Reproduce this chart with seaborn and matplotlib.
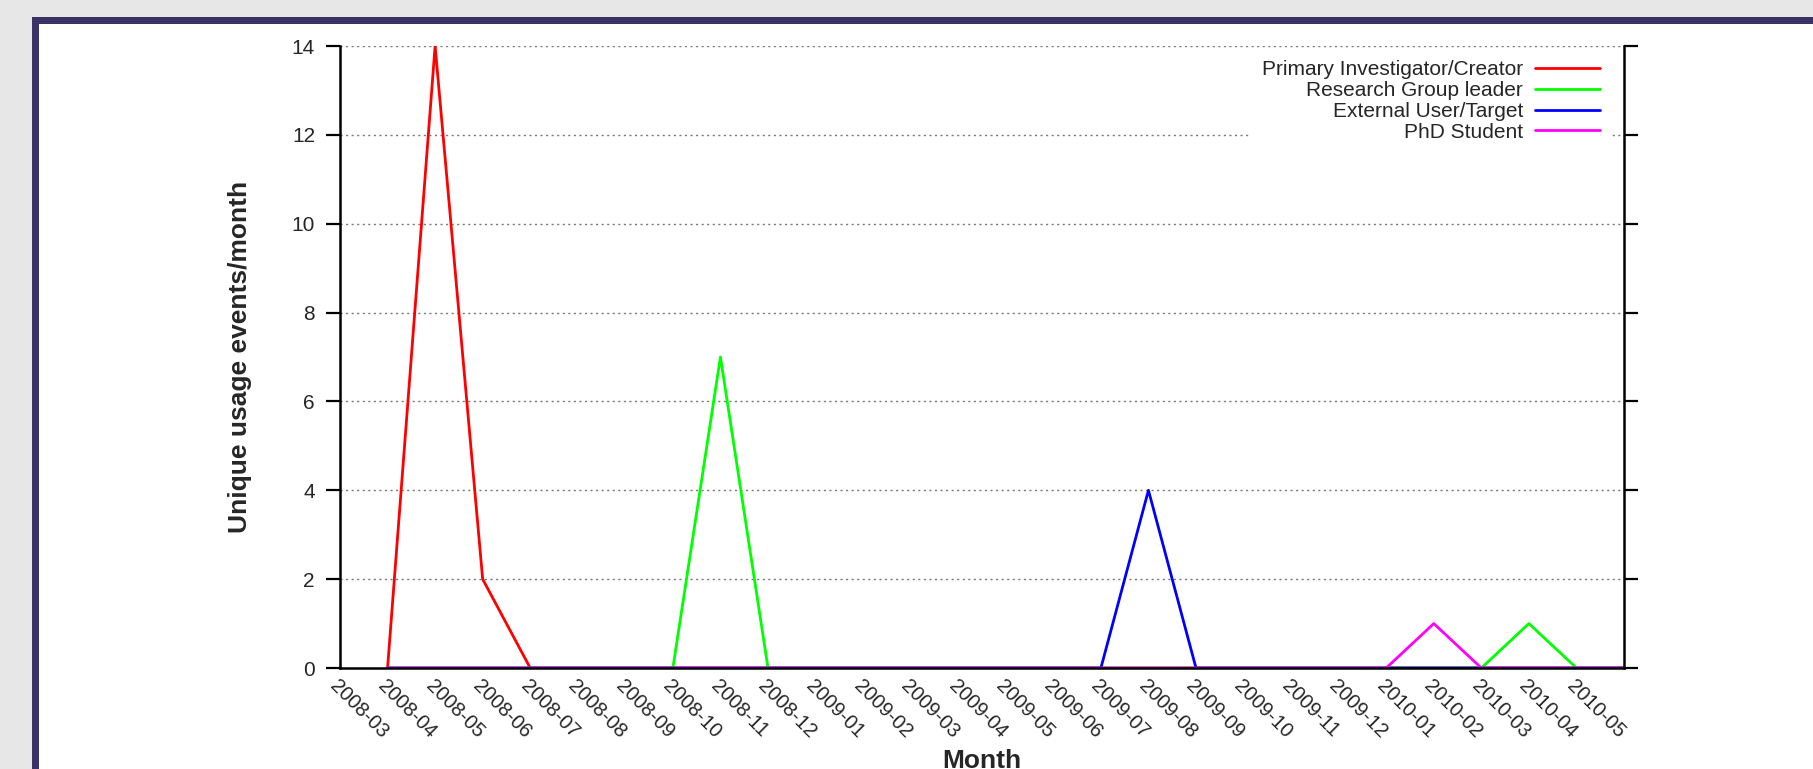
import matplotlib
matplotlib.use("Agg")
import matplotlib.pyplot as plt
import seaborn as sns
import pandas as pd
from matplotlib.patches import Rectangle

# month labels on the x axis (data runs one month past the last label)
MONTHS = ["2008-03", "2008-04", "2008-05", "2008-06", "2008-07", "2008-08",
          "2008-09", "2008-10", "2008-11", "2008-12", "2009-01", "2009-02",
          "2009-03", "2009-04", "2009-05", "2009-06", "2009-07", "2009-08",
          "2009-09", "2009-10", "2009-11", "2009-12", "2010-01", "2010-02",
          "2010-03", "2010-04", "2010-05"]

# values for 2008-04 .. 2010-06
primary  = [0, 14, 2, 0, 0, 0, 0, 0, 0, 0, 0, 0, 0, 0, 0, 0, 0, 0, 0, 0, 0, 0, 0, 0, 0, 0, 0]
group    = [0, 0, 0, 0, 0, 0, 0, 7, 0, 0, 0, 0, 0, 0, 0, 0, 0, 0, 0, 0, 0, 0, 0, 0, 1, 0, 0]
external = [0, 0, 0, 0, 0, 0, 0, 0, 0, 0, 0, 0, 0, 0, 0, 0, 4, 0, 0, 0, 0, 0, 0, 0, 0, 0, 0]
phd      = [0, 0, 0, 0, 0, 0, 0, 0, 0, 0, 0, 0, 0, 0, 0, 0, 0, 0, 0, 0, 0, 0, 1, 0, 0, 0, 0]

SERIES = ["Primary Investigator/Creator", "Research Group leader",
          "External User/Target", "PhD Student"]
COLORS = ["#ff0000", "#00ff00", "#0000ff", "#ff00ff"]

sns.set_style("white")
plt.rcParams["font.family"] = ["Liberation Sans", "DejaVu Sans"]

fig = plt.figure(figsize=(18.13, 7.69), dpi=100, facecolor="#e7e7e7")
# purple frame around white page (left/top edges visible)
fig.add_artist(Rectangle((32 / 1813, -0.1), 1.2, 1 - 17 / 769 + 0.1,
                         transform=fig.transFigure, facecolor="#3b3366",
                         edgecolor="none", zorder=-10))
fig.add_artist(Rectangle((39 / 1813, -0.1), 1.2, 1 - 24 / 769 + 0.1,
                         transform=fig.transFigure, facecolor="white",
                         edgecolor="none", zorder=-9))

ax = fig.add_axes([340 / 1813, 1 - 668 / 769, (1624 - 340) / 1813, (668 - 46) / 769])
ax.set_facecolor("none")

xpos = list(range(1, len(primary) + 1))
for name, vals, c in zip(SERIES, [primary, group, external, phd], COLORS):
    df = pd.DataFrame({"month": xpos, "events": vals})
    sns.lineplot(data=df, x="month", y="events", color=c, lw=2.0,
                 label=name, ax=ax)

ax.set_xlim(0, 27)
ax.set_ylim(0, 14)
ax.set_yticks(range(0, 15, 2))
ax.set_xticks(range(len(MONTHS)))
ax.set_xticklabels(MONTHS, rotation=-45, ha="left", va="top",
                   rotation_mode="anchor", fontsize=14.5)
ax.tick_params(axis="x", length=0, pad=6)
ax.tick_params(axis="y", direction="out", length=10, width=1.6,
               labelsize=15, pad=8, right=True, left=True, color="black")

for y in range(2, 15, 2):
    ax.axhline(y, color="#777777", lw=1, ls=(0, (1.5, 2.5)), zorder=0.5)

for s in ["left", "right", "bottom"]:
    ax.spines[s].set_linewidth(1.8)
    ax.spines[s].set_color("black")
ax.spines["top"].set_visible(False)

ax.set_xlabel("Month", fontsize=19, fontweight="bold")
ax.xaxis.set_label_coords(0.5, -0.13)
ax.set_ylabel("Unique usage events/month", fontsize=19, fontweight="bold")
ax.yaxis.set_label_coords(-0.0685, 0.5)

leg = ax.legend(loc="upper right", bbox_to_anchor=(0.9907, 0.9968), borderaxespad=0,
                markerfirst=False, frameon=True, fontsize=15, handlelength=3.12,
                handletextpad=0.58, labelspacing=0.09, borderpad=0.58,
                fancybox=False)
leg.get_frame().set_facecolor("white")
leg.get_frame().set_edgecolor("none")
leg.get_frame().set_alpha(1)
leg.set_zorder(2.3)

fig.savefig("out.png", dpi=100, facecolor=fig.get_facecolor())
